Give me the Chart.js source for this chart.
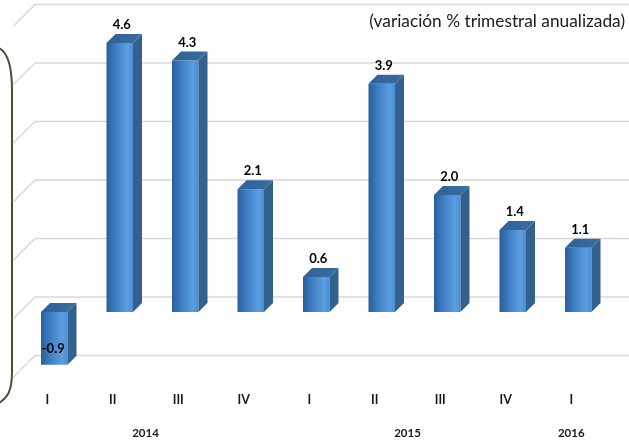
<!DOCTYPE html>
<html>
<head>
<meta charset="utf-8">
<script src="https://cdn.jsdelivr.net/npm/chart.js@4"></script>
<style>
	html, body { margin:0; padding:0; background:#fff; }
	canvas { display:block; }
</style>
</head>
<body>
<canvas id="c" width="629" height="447"></canvas>
<script>
const quarters = ['I', 'II', 'III', 'IV', 'I', 'II', 'III', 'IV', 'I']
const years = ['2014', '2014', '2014', '2014', '2015', '2015', '2015', '2015', '2016']
const values = [-0.9, 4.6, 4.3, 2.1, 0.6, 3.9, 2.0, 1.4, 1.1]
const yMin = -1, yMax = 5, yStep = 1
const subtitle = '(variación % trimestral anualizada)'

const dx = 9, dy = -9   // profundidad de las barras
const wallX = 22, wallY = -15   // pared del fondo

const frontColor = c => {
	const x = c.chart.scales && c.chart.scales.x
	if (!x || x.left === undefined) return '#4a8ad0'
	const cx = x.getPixelForValue(c.dataIndex)
	const w = x.width / quarters.length * 0.405
	const g = c.chart.ctx.createLinearGradient(cx - w/2, 0, cx + w/2, 0)
	g.addColorStop(0, '#2a5d9a')
	g.addColorStop(0.35, '#3f7fc4')
	g.addColorStop(0.8, '#5b9fe0')
	g.addColorStop(1, '#4c8cd2')
	return g
}

const fondo = {
	id: 'fondo',
	beforeDatasetsDraw(chart) {
		const {ctx, scales:{y}} = chart
		ctx.save()
		// marco redondeado a la izquierda
		ctx.strokeStyle = '#4f4b34'
		ctx.lineWidth = 2
		ctx.beginPath()
		ctx.moveTo(-1, 48)
		ctx.bezierCurveTo(7, 52, 12, 66, 12, 90)
		ctx.lineTo(12, 372)
		ctx.bezierCurveTo(12, 392, 7, 398, -1, 403)
		ctx.stroke()
		// lineas de la pared
		ctx.strokeStyle = '#d9d9d9'
		ctx.lineWidth = 1.5
		y.ticks.forEach(t => {
			const py = y.getPixelForValue(t.value)
			ctx.beginPath()
			ctx.moveTo(13, py + 7)
			ctx.lineTo(13 + wallX, py + wallY)
			ctx.lineTo(chart.width, py + wallY)
			ctx.stroke()
		})
		ctx.restore()
	},
	afterDatasetsDraw(chart) {
		const {ctx, scales:{x}} = chart
		const meta = chart.getDatasetMeta(0)
		ctx.save()
		meta.data.forEach((b, i) => {
			const xl = b.x - b.width/2, xr = b.x + b.width/2
			const top = Math.min(b.y, b.base), bot = Math.max(b.y, b.base)
			// cara superior
			let g = ctx.createLinearGradient(xl, 0, xr + dx, 0)
			g.addColorStop(0, '#2f6197')
			g.addColorStop(1, '#3a6d9f')
			ctx.fillStyle = g
			ctx.beginPath()
			ctx.moveTo(xl, top)
			ctx.lineTo(xl + dx, top + dy)
			ctx.lineTo(xr + dx, top + dy)
			ctx.lineTo(xr, top)
			ctx.closePath()
			ctx.fill()
			// cara lateral
			ctx.fillStyle = '#33618e'
			ctx.beginPath()
			ctx.moveTo(xr, top)
			ctx.lineTo(xr + dx, top + dy)
			ctx.lineTo(xr + dx, bot + dy)
			ctx.lineTo(xr, bot)
			ctx.closePath()
			ctx.fill()
			// etiqueta
			ctx.fillStyle = '#000'
			ctx.font = 'bold 13px Lato'
			ctx.textAlign = 'center'
			ctx.textBaseline = 'middle'
			const v = values[i].toFixed(1)
			if (values[i] >= 0) ctx.fillText(v, b.x + 2, top - 18)
			else ctx.fillText(v, b.x - 1, bot - 16)
		})
		// años
		ctx.font = 'bold 11.5px Lato'
		ctx.fillStyle = '#1a1a1a'
		const grupos = years.reduce((a, b, i) => { (a[b] = a[b] || []).push(i); return a }, {})
		Object.keys(grupos).forEach(k => {
			const idx = grupos[k]
			const px = idx.reduce((s, i) => s + x.getPixelForValue(i), 0) / idx.length - 7
			ctx.fillText(k, px, 433)
		})
		// subtitulo
		ctx.font = '17.3px Lato'
		ctx.textAlign = 'right'
		ctx.fillStyle = '#1a1a1a'
		ctx.fillText(subtitle, 625, 21)
		ctx.restore()
	}
}

new Chart(document.getElementById('c'), {
	type: 'bar',
	data: {
		labels: quarters,
		datasets: [{
			data: values,
			backgroundColor: frontColor,
			borderWidth: 0,
			barPercentage: 0.405,
			categoryPercentage: 1,
		}]
	},
	options: {
		responsive: false,
		animation: false,
		devicePixelRatio: 1,
		layout: { padding: { left: 21.5, right: 18, top: 19.5, bottom: 17.5 } },
		plugins: { legend: { display: false }, tooltip: { enabled: false } },
		scales: {
			x: {
				grid: { display: false, drawTicks: false },
				border: { display: false },
				ticks: {
					color: '#1a1a1a',
					font: { family: 'Lato', weight: 'bold', size: 12.5 },
					labelOffset: -7,
					padding: 22,
					maxRotation: 0,
					autoSkip: false,
				}
			},
			y: {
				display: false,
				min: yMin,
				max: yMax,
				ticks: { stepSize: yStep }
			}
		}
	},
	plugins: [fondo]
})
</script>
</body>
</html>
